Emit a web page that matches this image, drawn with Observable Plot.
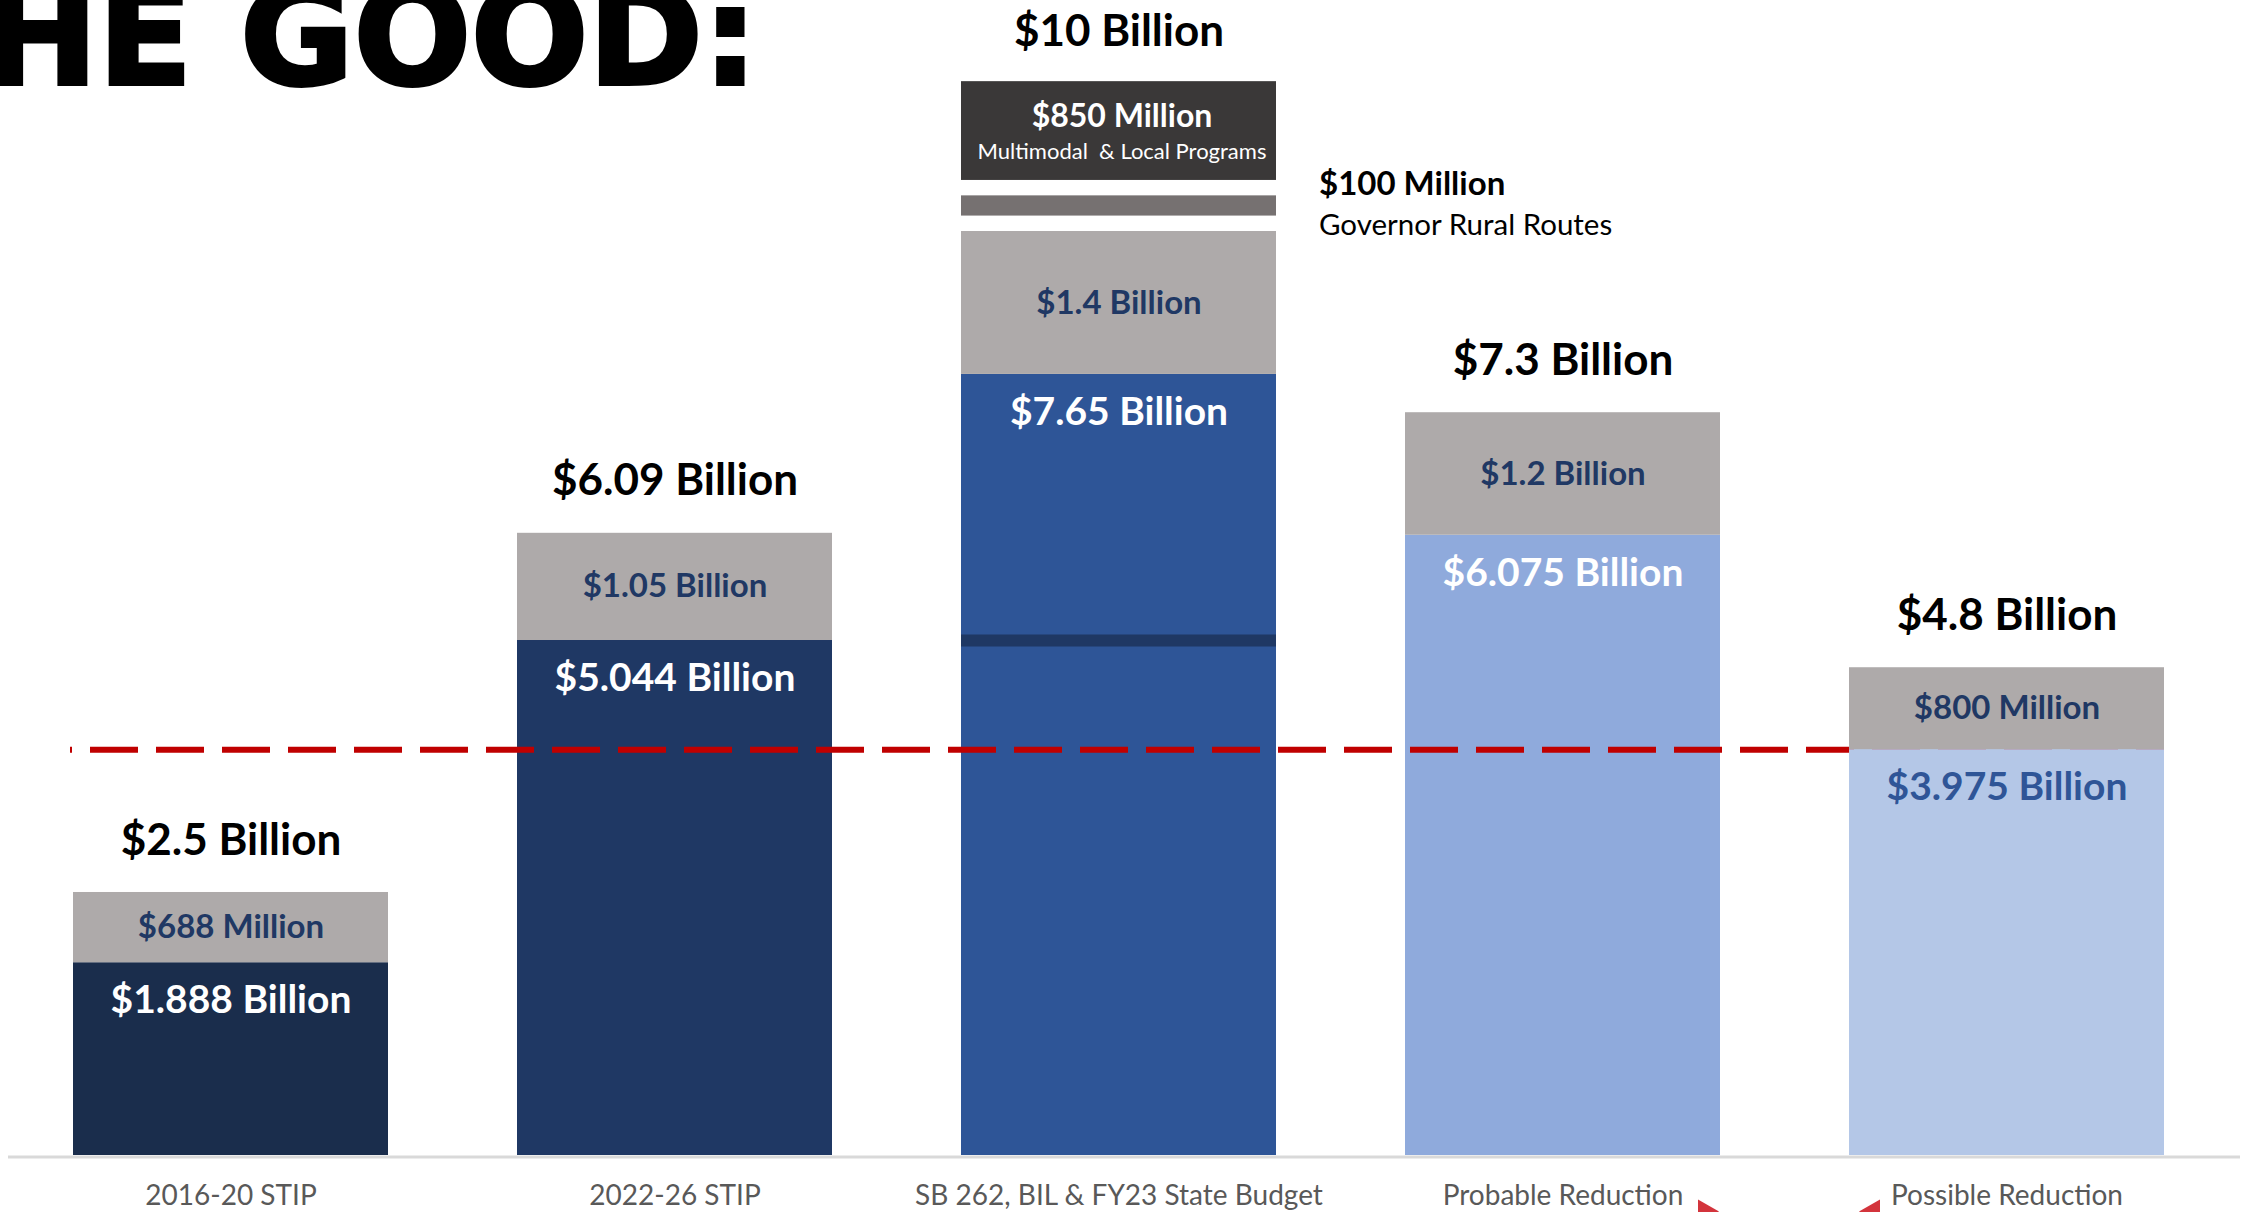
<!DOCTYPE html>
<html><head><meta charset="utf-8">
<script src="https://cdn.jsdelivr.net/npm/d3@7"></script>
<script src="https://cdn.jsdelivr.net/npm/@observablehq/plot@0.6"></script>
<style>
html,body{margin:0;padding:0;background:#fff;}
#wrap{position:relative;width:2244px;height:1212px;overflow:hidden;background:#fff;}
#title{position:absolute;left:0;top:0;overflow:visible;}
</style></head><body>
<div id="wrap"><div id="chart"></div>
<svg id="title" width="800" height="130"><text x="758" y="84" text-anchor="end" font-family="DejaVu Sans" font-weight="bold" font-size="138" stroke="#000" stroke-width="4" fill="#000">THE GOOD:</text></svg>
</div>
<script>
// ---- data ----
const categories = ["2016-20 STIP", "2022-26 STIP", "SB 262, BIL & FY23 State Budget", "Probable Reduction", "Possible Reduction"];
const baseValues = [1.888, 5.044, 7.65, 6.075, 3.975];
const baseLabels = ["$1.888 Billion", "$5.044 Billion", "$7.65 Billion", "$6.075 Billion", "$3.975 Billion"];
const grayValues = [0.688, 1.05, 1.4, 1.2, 0.8];
const grayLabels = ["$688 Million", "$1.05 Billion", "$1.4 Billion", "$1.2 Billion", "$800 Million"];
const totalLabels = ["$2.5 Billion", "$6.09 Billion", "$10 Billion", "$7.3 Billion", "$4.8 Billion"];
const ruralValue = 0.1;
const ruralLabels = ["$100 Million", "Governor Rural Routes"];
const multimodalValue = 0.85;
const multimodalLabels = ["$850 Million", "Multimodal  & Local Programs"];

// ---- layout constants ----
const W = 2244, H = 1212;
const stackGap = 0.2;
const sbCat = categories[2];

const segs = [];
categories.forEach((c, i) => {
  segs.push({cat: c, key: c, y1: 0, y2: baseValues[i], label: baseLabels[i]});
  segs.push({cat: c, key: "gray", y1: baseValues[i], y2: baseValues[i] + grayValues[i], label: grayLabels[i]});
});
const sbTop = baseValues[2] + grayValues[2];
const rural = {cat: sbCat, key: "rural", y1: sbTop + stackGap, y2: sbTop + stackGap + ruralValue};
const multi = {cat: sbCat, key: "multi", y1: rural.y2 + stackGap, y2: rural.y2 + stackGap + multimodalValue};
const totals = categories.map((c, i) => ({cat: c, top: i === 2 ? multi.y2 : baseValues[i] + grayValues[i], label: totalLabels[i]}));
const baseSegs = segs.filter(d => d.key !== "gray");
const graySegs = segs.filter(d => d.key === "gray");
const lastCat = categories[4];

const chart = Plot.plot({
  width: W, height: H,
  marginTop: 0, marginBottom: 57, marginLeft: 8, marginRight: 15,
  x: {domain: categories, paddingInner: 0.29, paddingOuter: 0.145, label: null},
  y: {domain: [0, 1155 / 102.1], axis: null},
  color: {domain: [...categories, "gray", "rural", "multi"],
          range: ["#1a2d4c", "#1f3864", "#2e5597", "#8faadc", "#b4c7e7", "#aeaaaa", "#767171", "#3a3838"]},
  style: {fontFamily: "Lato, sans-serif", background: "white", overflow: "visible"},
  marks: [
    Plot.ruleY([0], {stroke: "#d9d9d9", strokeWidth: 3, dy: 1.5, insetRight: -11}),
    Plot.barY(segs, {x: "cat", y1: "y1", y2: "y2", fill: "key"}),
    Plot.barY([rural], {x: "cat", y1: "y1", y2: "y2", fill: "key", insetTop: -5, insetBottom: -5}),
    Plot.barY([multi], {x: "cat", y1: "y1", y2: "y2", fill: "key", insetTop: -12}),
    Plot.tickY([{cat: sbCat, y: baseValues[1]}], {x: "cat", y: "y", stroke: "#1f3864", strokeWidth: 12}),
    Plot.ruleY([{y: baseValues[4], a: categories[0], b: categories[4]}],
      {y: "y", x1: "a", x2: "b", insetLeft: -3, stroke: "#c00000", strokeWidth: 6,
       strokeDasharray: "48,18", strokeDashoffset: 46}),
    Plot.barY(segs.filter(d => d.cat === lastCat), {x: "cat", y1: "y1", y2: "y2", fill: "key"}),
    // totals
    Plot.text(totals.filter(d => d.cat !== sbCat), {x: "cat", y: "top", text: "label", dy: -52,
      fontSize: 44, fontWeight: "bold", fill: "#000"}),
    Plot.text(totals.filter(d => d.cat === sbCat), {x: "cat", y: "top", text: "label", dy: -62,
      fontSize: 44, fontWeight: "bold", fill: "#000"}),
    // gray segment labels
    Plot.text(graySegs, {x: "cat", y: d => (d.y1 + d.y2) / 2, text: "label",
      fontSize: 33, fontWeight: "bold", fill: "#203864"}),
    // base segment labels
    Plot.text(baseSegs, {x: "cat", y: "y2", text: "label", dy: 38,
      fontSize: 39, fontWeight: "bold", fill: d => d.cat === lastCat ? "#2f5597" : "#ffffff"}),
    // multimodal box labels
    Plot.text([multi], {x: "cat", y: "y2", text: () => multimodalLabels[0], dy: 23, dx: 3,
      fontSize: 32, fontWeight: "bold", fill: "#ffffff"}),
    Plot.text([multi], {x: "cat", y: "y2", text: () => multimodalLabels[1], dy: 58, dx: 3,
      fontSize: 22, fill: "#ffffff"}),
    // rural annotation
    Plot.text([rural], {x: "cat", y: d => (d.y1 + d.y2) / 2, text: () => ruralLabels[0], dy: -22, dx: 200,
      textAnchor: "start", fontSize: 33, fontWeight: "bold", fill: "#000"}),
    Plot.text([rural], {x: "cat", y: d => (d.y1 + d.y2) / 2, text: () => ruralLabels[1], dy: 20, dx: 200,
      textAnchor: "start", fontSize: 29.5, fill: "#000"}),
    // small red arrowheads (cut by the bottom edge)
    Plot.dot([categories[3]], {x: d => d, frameAnchor: "bottom", dy: 56, dx: 142, symbol: "triangle", r: 9, fill: "#d3343c", stroke: null, rotate: -30}),
    Plot.dot([categories[4]], {x: d => d, frameAnchor: "bottom", dy: 56, dx: -134, symbol: "triangle", r: 9, fill: "#d3343c", stroke: null, rotate: 30}),
    Plot.axisX({tickSize: 0, tickPadding: 30, fontSize: 28, color: "#595959", label: null})
  ]
});
document.getElementById("chart").appendChild(chart);
</script>
</body></html>
